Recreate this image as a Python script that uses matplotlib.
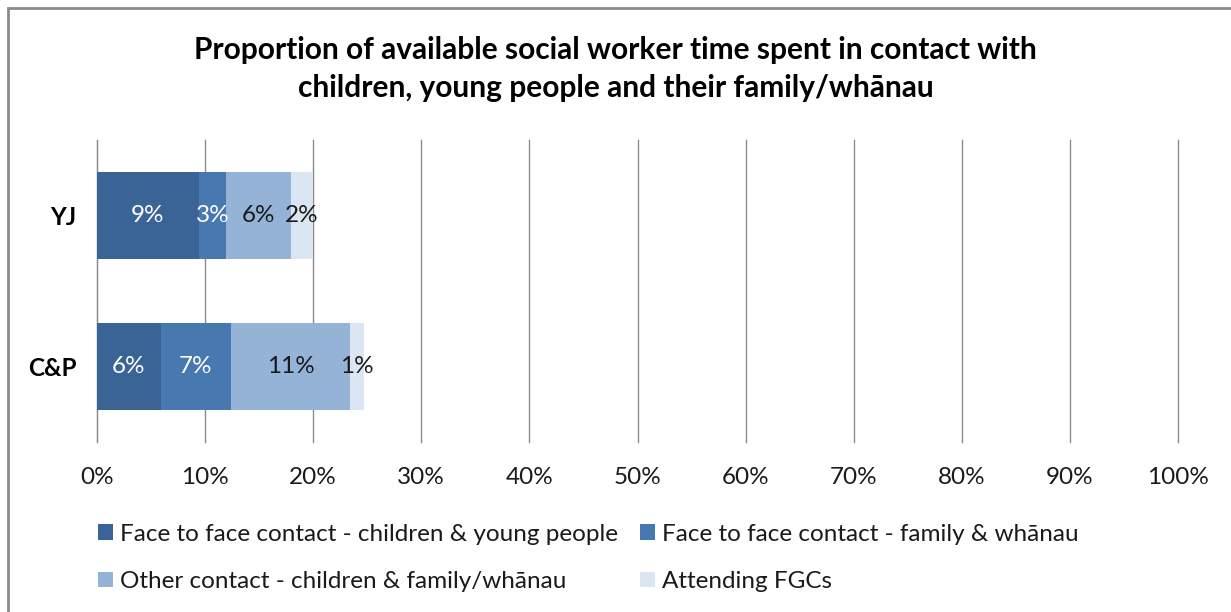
import matplotlib
matplotlib.use("Agg")
import matplotlib.pyplot as plt
from matplotlib.patches import Rectangle, Patch
from matplotlib.ticker import FuncFormatter

categories = ["YJ", "C&P"]
series_names = [
    "Face to face contact - children & young people",
    "Face to face contact - family & wh\u0101nau",
    "Other contact - children & family/wh\u0101nau",
    "Attending FGCs",
]
# values (%) per series, order matches categories
face_children = [9.4, 5.9]
face_family = [2.55, 6.5]
other_contact = [6.0, 11.0]
attending_fgc = [2.0, 1.3]
series_values = [face_children, face_family, other_contact, attending_fgc]
# data labels as shown
label_face_children = ["9%", "6%"]
label_face_family = ["3%", "7%"]
label_other_contact = ["6%", "11%"]
label_attending_fgc = ["2%", "1%"]
series_labels = [label_face_children, label_face_family, label_other_contact, label_attending_fgc]
x_ticks = [0, 10, 20, 30, 40, 50, 60, 70, 80, 90, 100]

colors = ["#3B6496", "#4878B0", "#95B3D7", "#DCE6F2"]
label_colors = ["white", "white", "#1a1a1a", "#1a1a1a"]

FONT = "Lato"
FS = 17.5
W, H = 1231, 612
fig = plt.figure(figsize=(W / 100, H / 100), dpi=100)
fig.patch.set_facecolor("white")

# outer border
fig.add_artist(Rectangle((8 / W, -0.05), 1.2, (H - 8) / H + 0.05, transform=fig.transFigure,
                         fill=False, edgecolor="#8c8c8c", linewidth=2))

left, right, top, bottom = 97, 1178, 140, 442
ax = fig.add_axes([left / W, 1 - bottom / H, (right - left) / W, (bottom - top) / H])

ypos = list(range(len(categories)))
cum = [0.0] * len(categories)
for vals, labs, col, lcol in zip(series_values, series_labels, colors, label_colors):
    bars = ax.barh(ypos, vals, left=cum, height=0.57, color=col, zorder=3)
    for b, lab in zip(bars, labs):
        ax.text(b.get_x() + b.get_width() / 2, b.get_y() + b.get_height() / 2, lab,
                ha="center", va="center", color=lcol, fontsize=FS, family=FONT, zorder=4)
    cum = [c + v for c, v in zip(cum, vals)]

ax.set_xlim(0, 100)
ax.set_ylim(len(categories) - 0.5, -0.5)
ax.set_xticks(x_ticks)
ax.xaxis.set_major_formatter(FuncFormatter(lambda v, p: f"{v:.0f}%"))
ax.set_yticks(ypos)
ax.set_yticklabels(categories, fontweight="bold")
for t in ax.get_xticklabels():
    t.set_family(FONT); t.set_fontsize(FS); t.set_color("#1a1a1a")
for t in ax.get_yticklabels():
    t.set_family(FONT); t.set_fontsize(FS); t.set_color("black")
ax.tick_params(axis="x", length=0, pad=18)
ax.tick_params(axis="y", length=0, pad=15)
ax.grid(axis="x", color="#8c8c8c", linewidth=1, zorder=0)
for gl in ax.get_xgridlines():
    gl.set_clip_on(False)
for s in ["top", "right", "bottom"]:
    ax.spines[s].set_visible(False)
ax.spines["left"].set_color("#8c8c8c")

fig.text(0.5, 1 - 50 / H, "Proportion of available social worker time spent in contact with",
         ha="center", va="center", fontsize=21.5, fontweight="bold", family=FONT)
fig.text(0.5, 1 - 88 / H, "children, young people and their family/wh\u0101nau",
         ha="center", va="center", fontsize=21.5, fontweight="bold", family=FONT)

handles = [Patch(facecolor=c, edgecolor="none") for c in colors]
order = [0, 2, 1, 3]
leg = fig.legend([handles[i] for i in order], [series_names[i] for i in order],
                 ncol=2, loc="upper left", bbox_to_anchor=(88 / W, 1 - 514 / H),
                 frameon=False, prop={"family": FONT, "size": FS},
                 handlelength=0.62, handleheight=0.62, handletextpad=0.3,
                 columnspacing=0.9, labelspacing=1.08, borderaxespad=0)
for t in leg.get_texts():
    t.set_color("#1a1a1a")

fig.savefig("out.png", dpi=100)
